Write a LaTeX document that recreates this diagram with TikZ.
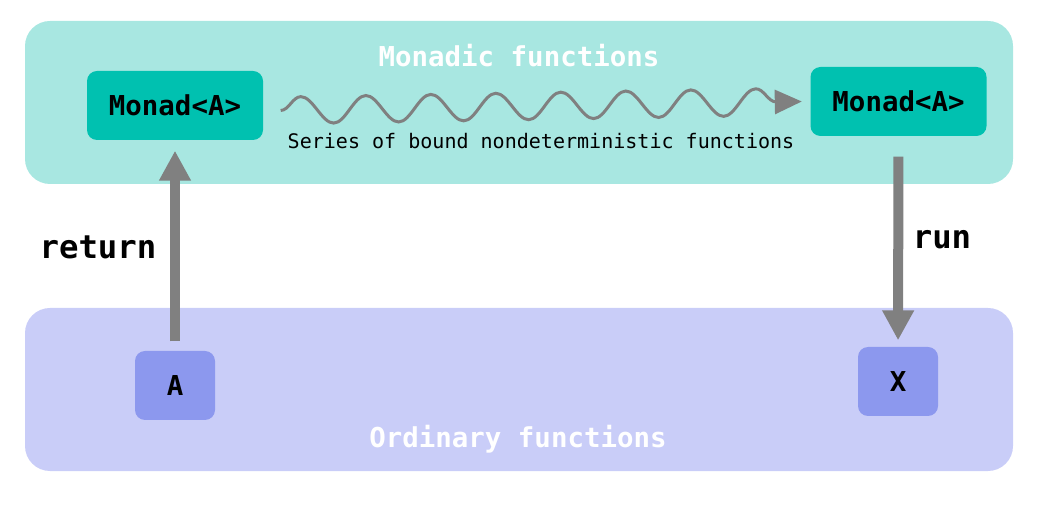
\documentclass[tikz,border=0pt]{standalone}
\usepackage{fontspec}
\setmonofont{DejaVu Sans Mono}
\usepackage{xcolor}
\usetikzlibrary{arrows.meta, positioning, decorations.pathmorphing}
\definecolor{monadpanel}{HTML}{A8E7E1}
\definecolor{monadbox}{HTML}{00C1B0}
\definecolor{ordpanel}{HTML}{C9CDF8}
\definecolor{ordbox}{HTML}{8C98EE}
\definecolor{arrowgray}{HTML}{808080}
\tikzset{
    panel/.style={rectangle, rounded corners=2.5mm, minimum width=9.88cm, minimum height=1.63cm, inner sep=0pt},
    paneltext/.style={text=white, font=\ttfamily\bfseries\fontsize{7.8}{9}\selectfont},
}

\begin{document}
\begin{tikzpicture}[
    mb/.style={rectangle, fill=monadbox, rounded corners=1mm, minimum width=1.76cm, minimum height=0.69cm, inner sep=0pt, font=\ttfamily\bfseries\fontsize{7.8}{9}\selectfont},
    ob/.style={rectangle, fill=ordbox, rounded corners=1mm, minimum width=0.80cm, minimum height=0.69cm, inner sep=0pt, font=\ttfamily\bfseries\fontsize{7.8}{9}\selectfont},
    ar/.style={-{Triangle[length=3mm, width=3mm]}, line width=1mm, arrowgray},
    wave/.style={-{Triangle[length=2.7mm, width=2.4mm]}, line width=0.3mm, arrowgray,
        decorate, decoration={snake, amplitude=1.35mm, segment length=6.5mm, post length=1mm}},
    lbl/.style={font=\ttfamily\bfseries\fontsize{9.2}{11}\selectfont},
]
    \useasboundingbox (0,0) rectangle (10.48,5.11);
    % Panels
    \node [panel, fill=monadpanel] (monadic) at (5.19,4.085) {};
    \node [panel, fill=ordpanel] (ordinary) at (5.19,1.215) {};
    \node [paneltext] (monadictxt) at (5.19,4.55) {Monadic functions};
    \node [paneltext] (ordinarytxt) at (5.18,0.72) {Ordinary functions};
    % Monadic row
    \node [mb] (mleft) at (1.75,4.055) {Monad<A>};
    \node [mb] (mright) at (8.985,4.095) {Monad<A>};
    % Ordinary row
    \node [ob] (a) at (1.75,1.255) {A};
    \node [ob] (x) at (8.98,1.295) {X};
    % Bound functions
    \draw [wave] ([xshift=1.7mm, yshift=-0.5mm]mleft.east) -- ([xshift=-0.8mm]mright.west);
    \node [font=\ttfamily\fontsize{5.7}{7}\selectfont] (series) at (5.41,3.70) {Series of bound nondeterministic functions};
    % return / run
    \draw [ar, shorten <=0.9mm, shorten >=1mm] (a) -- (mleft);
    \draw [ar, shorten <=2mm, shorten >=0.6mm] (mright) -- (x);
    \node [lbl] (ret) at (0.98,2.64) {return};
    \node [lbl] (run) at (9.42,2.71) {run};
\end{tikzpicture}
\end{document}
